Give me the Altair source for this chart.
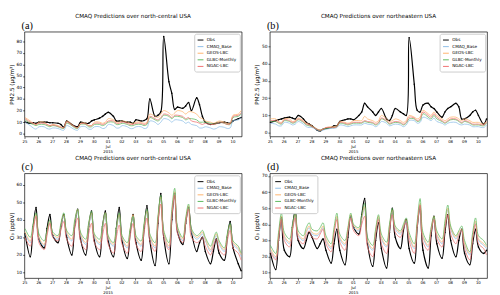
import altair as alt
import pandas as pd

HOURS = [1, 10, 15, 20]
N_DAYS = 16
N_POINTS = 63
TICK_LABELS = ["25", "26", "27", "28", "29", "30", "01", "02", "03", "04",
               "05", "06", "07", "08", "09", "10"]
JUL_LABEL = ["01", "Jul", "2015"]
SERIES = ["Obs", "CMAQ_Base", "GEOS-LBC", "GLBC-Monthly", "NGAC-LBC"]
COLORS = ["#000000", "#8dbde6", "#ffb36b", "#5cb85c", "#ef6f6f"]

# ---------------- (a) PM2.5 north-central ----------------
A_OBS = [10, 9, 9.5, 9,  10, 10, 10, 9.5,  9.5, 9, 8, 5.5,  11, 8, 6.5, 6,
         10, 9, 9, 11,  12, 13.5, 15, 17,  18.5, 15, 11, 11,  11, 10, 10, 9,
         12, 11, 11.5, 13,  30, 15, 16, 19,  84, 45, 35, 21,  23, 22, 24, 27,
         20, 31, 25, 15,  10, 8, 8.5, 9,  9.5, 10, 9.5, 9,  11, 13, 14]
A_BASE = [10, 7, 5, 4,  6, 6, 4.5, 4,  5, 4.5, 3.5, 3,  7, 5, 3.5, 3,
          6, 6, 4, 4,  6, 6, 4.5, 5,  8, 7, 5, 5,  7, 6, 4.5, 4.5,
          6, 6, 4.5, 5,  11, 10, 8, 10,  13, 12, 10, 12,  12, 11, 9, 10,
          8, 7, 5, 5,  6, 5, 4, 4.5,  6, 5.5, 4.5, 5,  11, 12, 14]
A_GEOS = [14, 11, 9, 8,  10, 10, 8, 7,  8, 7, 6, 5,  11, 8, 6, 5,
          9, 9, 7, 7,  10, 10, 9, 10,  13, 12, 10, 10,  11, 10, 9, 9,
          10, 10, 9, 10,  17, 15, 14, 17,  20, 18, 16, 18,  20, 19, 17, 19,
          19, 17, 14, 13,  11, 10, 9, 10,  11, 10, 9, 9,  16, 17, 20]
A_GLBC = [12, 9, 8, 7,  8, 8, 7, 6,  7, 6, 5, 4.5,  9, 7, 5, 4.5,
          8, 8, 6, 6,  8, 8, 7, 8,  10, 10, 8, 8,  9, 8, 7, 7,
          8, 8, 7, 8,  14, 12, 11, 13,  16, 15, 13, 15,  15, 14, 12, 13,
          13, 12, 10, 10,  10, 9, 8, 9,  10, 9, 8, 8,  14, 15, 17]
A_NGAC = [13, 10, 9, 8,  9, 9, 8, 7,  7.5, 6.5, 5.5, 5,  10, 7.5, 6, 5,
          8.5, 8.5, 7, 7,  9, 9, 8, 9,  11, 11, 9, 9,  10, 9, 8, 8,
          9, 9, 8, 9,  15, 13, 12, 14,  17, 16, 14, 16,  16, 15, 13, 14,
          11, 10, 9, 8,  9, 8, 8, 8.5,  10, 9, 8, 8.5,  15, 16, 18]

# ---------------- (b) PM2.5 northeastern ----------------
B_OBS = [6, 7, 7.5, 8,  8.5, 9, 8.5, 8,  10, 8, 6, 5,  4, 1.5, 1, 2,
         2.5, 3, 4, 4,  6.5, 7.5, 8, 8,  7.5, 10, 12, 17,  15, 12, 10, 12,
         14, 8, 7, 10,  14, 12, 11, 10,  55, 28, 13, 12,  16, 17, 15, 14,
         12, 9, 12, 14,  15, 17, 15, 8,  8, 10, 12, 13,  10, 5, 8]
B_BASE = [5.5, 5, 4, 4,  6, 5.5, 4.5, 5,  6.5, 5, 3.5, 3,  3, 1.5, 1, 1.5,
          2, 2.5, 2.5, 3,  4.5, 4, 3.5, 4,  4.5, 4.5, 4.5, 5.5,  5, 4.5, 3.5, 4.5,
          6.5, 5.5, 4, 4.5,  5, 4.5, 3.5, 4.5,  7, 7, 5.5, 6,  9, 8, 7, 8.5,
          6.5, 5.5, 4.5, 5.5,  6, 6, 5, 4.5,  5, 4.5, 3.5, 3.5,  3.5, 3, 4.5]
B_GEOS = [8, 8, 6.5, 6,  8, 8, 6.5, 7,  8.5, 7, 5.5, 5,  4, 2, 1.5, 2,
          3, 3.5, 3.5, 4,  6.5, 6, 5.5, 6,  7, 7, 7, 9.5,  8, 7, 6, 7,
          10, 8, 6.5, 7,  8, 7, 6, 7,  10, 9, 8, 9,  13, 11, 10, 12,
          10, 8, 7, 8,  9, 9, 8, 7,  8, 7, 6, 6,  6, 5, 6.5]
B_GLBC = [6.5, 6.5, 5.5, 5,  7, 6.5, 5.5, 6,  7.5, 6, 4.5, 4,  3.5, 2, 1.5, 2,
          2.5, 3, 3, 3.5,  5.5, 5, 4.5, 5,  5.5, 5.5, 5.5, 6.5,  6, 5.5, 4.5, 5.5,
          8, 6.5, 5, 5.5,  6, 5.5, 4.5, 5.5,  8, 8, 6.5, 7,  11, 9, 8, 10,
          8, 6.5, 5.5, 6.5,  7.5, 7.5, 6.5, 5.5,  6.5, 5.5, 4.5, 4.5,  4.5, 4, 5.5]
B_NGAC = [7, 7, 6, 5.5,  7.5, 7, 6, 6.5,  8, 6.5, 5, 4.5,  3.5, 2, 1.5, 2,
          3, 3, 3, 3.5,  6, 5.5, 5, 5.5,  6, 6, 6, 7,  6.5, 6, 5, 6,
          8.5, 7, 5.5, 6,  6.5, 6, 5, 6,  9, 8.5, 7, 8,  12, 10, 9, 11,
          9, 7, 6, 7,  8, 8, 7, 6,  7, 6, 5, 5,  5, 4.5, 6]

# ---------------- (c) O3 north-central ----------------
C_OBS = [32, 19, 36, 47,  29, 24, 35, 43,  31, 27, 36, 43,  30, 20, 37, 46,
         29, 20, 36, 45,  28, 19, 36, 45,  28, 19, 35, 47,  28, 18, 33, 43,
         27, 17, 35, 48,  28, 14, 38, 55,  30, 15, 40, 55,  33, 26, 38, 47,
         33, 22, 27, 30,  22, 15, 22, 29,  21, 17, 30, 39,  24, 15, 11]
C_BASE = [32, 27, 35, 42,  29, 25, 32, 38,  31, 29, 36, 42,  32, 28, 38, 45,
          31, 26, 36, 43,  30, 26, 35, 43,  29, 25, 34, 42,  29, 24, 34, 42,
          29, 25, 36, 44,  30, 24, 40, 52,  32, 24, 43, 55,  34, 28, 39, 47,
          33, 29, 30, 32,  28, 22, 27, 31,  26, 22, 30, 36,  26, 23, 19]
C_GEOS = [33, 28, 36, 43,  30, 26, 33, 39,  32, 30, 37, 43,  33, 29, 39, 46,
          32, 27, 37, 44,  31, 27, 36, 44,  30, 26, 35, 43,  30, 25, 35, 43,
          30, 26, 37, 45,  31, 25, 41, 53,  33, 25, 44, 56,  35, 29, 40, 48,
          34, 30, 31, 33,  29, 23, 28, 32,  27, 23, 31, 37,  27, 24, 20]
C_GLBC = [35, 30, 38, 44,  32, 28, 34, 40,  33, 31, 38, 44,  34, 31, 40, 46,
          33, 29, 38, 45,  32, 29, 37, 44,  31, 27, 36, 44,  31, 27, 35, 42,
          31, 28, 38, 46,  32, 27, 42, 54,  34, 27, 46, 58,  36, 30, 41, 49,
          35, 31, 32, 34,  30, 25, 29, 33,  28, 24, 32, 38,  28, 25, 21]
C_NGAC = [30, 25, 34, 42,  27, 23, 31, 38,  30, 28, 34, 39,  29, 25, 35, 41,
          28, 23, 32, 38,  27, 23, 31, 38,  26, 21, 30, 37,  26, 21, 31, 38,
          26, 22, 33, 41,  28, 22, 38, 49,  30, 23, 42, 54,  32, 27, 38, 46,
          30, 27, 28, 30,  25, 20, 25, 29,  23, 20, 28, 34,  24, 21, 17]

# ---------------- (d) O3 northeastern ----------------
D_OBS = [22, 12, 30, 44,  24, 20, 38, 49,  30, 25, 30, 35,  32, 25, 28, 31,
         24, 16, 28, 37,  24, 15, 32, 45,  38, 34, 46, 56,  28, 14, 30, 41,
         25, 13, 35, 50,  32, 25, 36, 43,  25, 16, 38, 51,  24, 13, 33, 45,
         28, 19, 35, 46,  30, 20, 30, 37,  22, 15, 28, 37,  26, 22, 24]
D_BASE = [24, 19, 32, 44,  32, 28, 37, 45,  33, 30, 35, 38,  34, 33, 35, 38,
          30, 25, 35, 44,  31, 27, 36, 45,  38, 36, 43, 50,  29, 24, 35, 44,
          31, 26, 38, 48,  37, 34, 38, 42,  32, 25, 39, 52,  32, 26, 36, 44,
          33, 28, 39, 49,  37, 31, 34, 36,  27, 21, 32, 41,  30, 27, 25]
D_GEOS = [25, 20, 33, 45,  33, 29, 38, 46,  34, 31, 36, 39,  35, 34, 36, 39,
          31, 26, 36, 45,  32, 28, 37, 46,  39, 37, 44, 51,  30, 25, 36, 45,
          32, 27, 39, 49,  38, 35, 39, 43,  33, 26, 40, 53,  33, 27, 37, 45,
          34, 29, 40, 50,  38, 32, 35, 37,  28, 22, 33, 42,  31, 28, 26]
D_GLBC = [27, 22, 35, 47,  35, 31, 40, 47,  36, 33, 38, 41,  37, 36, 38, 41,
          33, 28, 38, 47,  34, 30, 38, 47,  40, 38, 46, 53,  32, 27, 37, 46,
          34, 29, 40, 50,  39, 36, 40, 44,  35, 28, 42, 56,  35, 29, 38, 45,
          36, 31, 42, 52,  39, 33, 36, 39,  30, 23, 35, 44,  33, 30, 27]
D_NGAC = [23, 18, 31, 43,  30, 26, 36, 44,  31, 28, 33, 36,  32, 31, 34, 37,
          28, 23, 34, 43,  29, 24, 35, 44,  36, 33, 40, 45,  26, 20, 33, 43,
          28, 22, 36, 46,  35, 32, 37, 41,  30, 22, 39, 52,  29, 24, 35, 43,
          31, 26, 37, 46,  34, 28, 33, 36,  25, 18, 31, 40,  28, 25, 21]

TIMES = [d + h / 24 for d in range(N_DAYS) for h in HOURS][:N_POINTS]

labels_js = "[" + ",".join("'%s'" % s for s in TICK_LABELS) + "]"
jul_js = "[" + ",".join("'%s'" % s for s in JUL_LABEL) + "]"
X_EXPR = f"datum.value == 6 ? {jul_js} : {labels_js}[datum.value]"

FONT = "DejaVu Sans"


def panel(tag, title, ytitle, ydom, yticks, series_lists, legend_orient):
    rows = []
    for name, vals in zip(SERIES, series_lists):
        for t, v in zip(TIMES, vals):
            rows.append({"t": t, "v": v, "s": name})
    df = pd.DataFrame(rows)
    x = alt.X("t:Q", scale=alt.Scale(domain=[0, 15.67], nice=False, zero=False),
              axis=alt.Axis(values=list(range(N_DAYS)), labelExpr=X_EXPR, title=None,
                            grid=False, domain=False, tickSize=2, tickWidth=0.6,
                            labelFontSize=4, labelPadding=1, labelLineHeight=5,
                            labelFlush=False, labelOverlap=False, labelFont=FONT))
    y = alt.Y("v:Q", scale=alt.Scale(domain=ydom, nice=False, zero=False),
              axis=alt.Axis(values=yticks, title=ytitle, titleFontSize=5.8,
                            titleFontWeight="normal", titlePadding=1.5, titleFont=FONT,
                            labelFontSize=4.5, labelPadding=1, labelFont=FONT,
                            tickSize=2, tickWidth=0.6, grid=False, domain=False))
    color = alt.Color("s:N", scale=alt.Scale(domain=SERIES, range=COLORS),
                      legend=alt.Legend(orient=legend_orient, title=None, fillColor="white",
                                        strokeColor="#cccccc", padding=3, offset=2,
                                        labelFontSize=4.3, labelFont=FONT,
                                        symbolType="stroke", symbolSize=36,
                                        symbolStrokeWidth=1, rowPadding=0.8,
                                        labelOffset=3, cornerRadius=2))
    obs = alt.Chart(df[df["s"] == "Obs"]).mark_line(
        strokeWidth=1.2, interpolate="catmull-rom",
        point=alt.OverlayMarkDef(size=2.5, filled=True, color="black")
    ).encode(x=x, y=y, color=color)
    models = alt.Chart(df[df["s"] != "Obs"]).mark_line(
        strokeWidth=0.8, interpolate="catmull-rom", opacity=0.95
    ).encode(x=x, y=y, color=color, detail="s:N")
    lab = alt.Chart(pd.DataFrame({"tag": [tag]})).mark_text(
        align="left", baseline="bottom", font="Liberation Serif", fontSize=10.5,
        color="black"
    ).encode(text="tag:N", x=alt.value(-3), y=alt.value(-1))
    return alt.layer(obs, models, lab).properties(
        width=224, height=108,
        title=alt.TitleParams(title, fontSize=5.8, font=FONT, fontWeight="normal",
                              offset=2, anchor="middle", color="black"))


pa = panel("(a)", "CMAQ Predictions over north-central USA", "PM2.5 (\u03bcg/m\u00b3)",
           [-2.45, 88.2], [0, 10, 20, 30, 40, 50, 60, 70, 80],
           [A_OBS, A_BASE, A_GEOS, A_GLBC, A_NGAC], "top-right")
pb = panel("(b)", "CMAQ Predictions over northeastern USA", "PM2.5 (\u03bcg/m\u00b3)",
           [-2.2, 58.4], [0, 10, 20, 30, 40, 50],
           [B_OBS, B_BASE, B_GEOS, B_GLBC, B_NGAC], "top-right")
pc = panel("(c)", "CMAQ Predictions over north-central USA", "O\u2083 (ppbV)",
           [6.77, 66.45], [10, 20, 30, 40, 50, 60],
           [C_OBS, C_BASE, C_GEOS, C_GLBC, C_NGAC], "top-right")
pd_ = panel("(d)", "CMAQ Predictions over northeastern USA", "O\u2083 (ppbV)",
            [6.67, 71.6], [10, 20, 30, 40, 50, 60, 70],
            [D_OBS, D_BASE, D_GEOS, D_GLBC, D_NGAC], "top-left")

top = alt.hconcat(pa, pb, spacing=9).resolve_scale(color="independent").resolve_legend(color="independent")
bottom = alt.hconcat(pc, pd_, spacing=9).resolve_scale(color="independent").resolve_legend(color="independent")
chart = alt.vconcat(top, bottom, spacing=0).resolve_scale(color="independent").resolve_legend(
    color="independent"
).properties(padding={"left": 0, "top": 0, "right": 2, "bottom": 0}).configure_view(
    stroke="black", strokeWidth=0.7
).configure_axis(tickColor="black", labelColor="black", titleColor="black")

chart.save("out.html", embed_options={"renderer": "svg", "actions": False})
